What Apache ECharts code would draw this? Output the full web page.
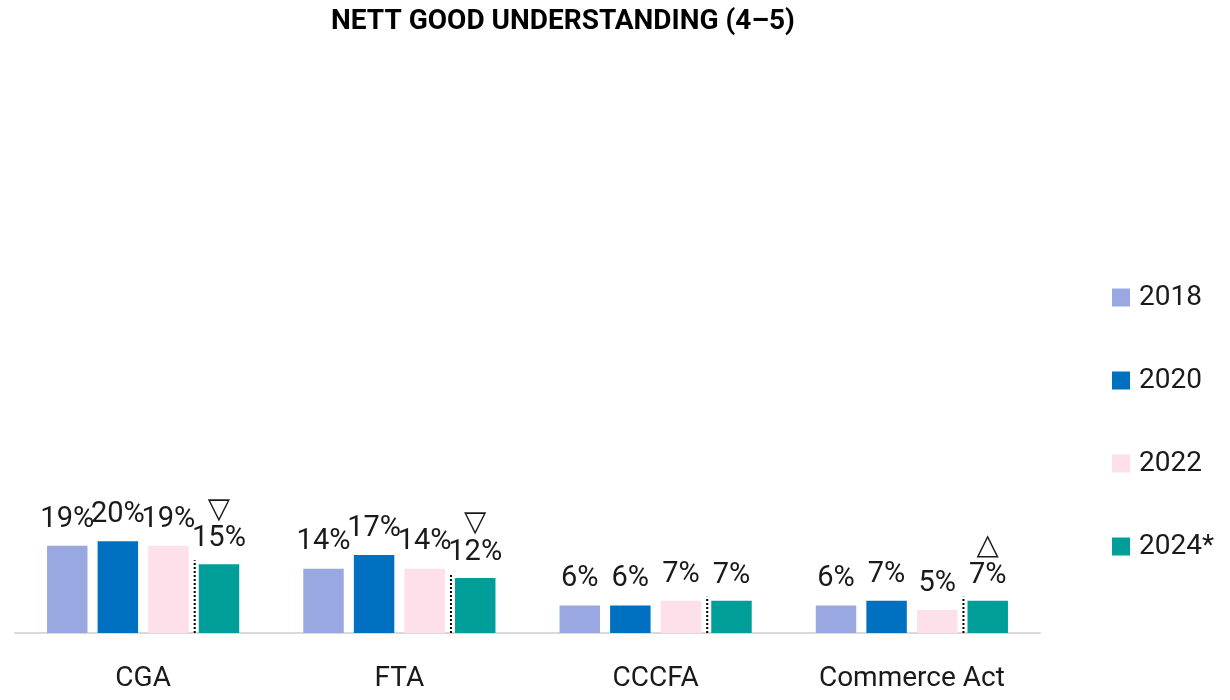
<!DOCTYPE html>
<html>
<head>
<meta charset="utf-8">
<title>Nett good understanding (4–5)</title>
<script src="https://cdn.jsdelivr.net/npm/echarts@6/dist/echarts.min.js"></script>
<style>
  html, body { margin: 0; padding: 0; background: #ffffff; }
  #chart { width: 1230px; height: 700px; }
</style>
</head>
<body>
<div id="chart"></div>
<script>
// Acts surveyed
const categories = ['CGA', 'FTA', 'CCCFA', 'Commerce Act'];
// Survey waves
const years = ['2018', '2020', '2022', '2024*'];
// Nett good understanding (%), one list per wave
const values2018 = [19, 14, 6, 6];
const values2020 = [20, 17, 6, 7];
const values2022 = [19, 14, 7, 5];
const values2024 = [15, 12, 7, 7];
// Significant change in 2024 vs 2022: 'down', 'up' or ''
const change2024 = ['down', 'down', '', 'up'];

const colors = ['#99A8E0', '#0070C0', '#FDE0EA', '#009E99'];
const textColor = '#1a1a1a';
const FONT = 'Roboto, "Noto Sans", sans-serif';

const CAT_GAP = 0.25;   // barCategoryGap
const BAR_GAP = 0.25;   // barGap, relative to bar width

const seriesValues = [values2018, values2020, values2022, values2024];

const barSeries = seriesValues.map((vals, s) => {
  const isLast = s === seriesValues.length - 1;
  return {
    name: years[s],
    type: 'bar',
    data: vals,
    barCategoryGap: (CAT_GAP * 100) + '%',
    barGap: (BAR_GAP * 100) + '%',
    itemStyle: { color: colors[s] },
    label: {
      show: true,
      position: 'top',
      distance: isLast ? 9 : 12,
      color: textColor,
      fontFamily: FONT,
      fontSize: 29,
      formatter: isLast
        ? (p) => {
            const c = change2024[p.dataIndex];
            const tri = c === 'down' ? '▽' : c === 'up' ? '△' : '';
            return (tri ? '{tri|' + tri + '}\n' : '') + '{val|' + p.value + '%}';
          }
        : (p) => p.value + '%',
      rich: isLast ? {
        tri: { fontSize: 29, lineHeight: 26, color: textColor, fontFamily: '"DejaVu Sans", sans-serif' },
        val: { fontSize: 29, lineHeight: 32, color: textColor, fontFamily: FONT }
      } : undefined
    }
  };
});

// Dotted separator between the 2022 and 2024 bars of each group
const separatorSeries = {
  type: 'custom',
  name: 'separator',
  data: values2024.map((v, i) => [i, v]),
  encode: { x: 0, y: 1 },
  z: 5,
  silent: true,
  renderItem: (params, api) => {
    const idx = api.value(0);
    const base = api.coord([idx, 0]);
    const top = api.coord([idx, api.value(1)]);
    const catW = api.size([1, 0])[0];
    const groupW = catW * (1 - CAT_GAP);
    const n = seriesValues.length;
    const bw = groupW / (n + (n - 1) * BAR_GAP);
    const gap = bw * BAR_GAP;
    const x = base[0] - groupW / 2 + 3 * bw + 2 * gap + gap * 0.6;
    return {
      type: 'line',
      shape: { x1: x, y1: base[1], x2: x, y2: top[1] - 4 },
      style: { stroke: '#000000', lineWidth: 2, lineDash: [2, 2] }
    };
  }
};

const chart = echarts.init(document.getElementById('chart'), null, { renderer: 'canvas' });
chart.setOption({
  backgroundColor: '#ffffff',
  animation: false,
  title: {
    text: 'NETT GOOD UNDERSTANDING (4–5)',
    left: 558,
    textAlign: 'center',
    top: 3,
    textStyle: { fontFamily: FONT, fontWeight: 'bold', fontSize: 28, color: '#000000' }
  },
  legend: {
    data: years,
    orient: 'vertical',
    left: 1112,
    top: 283,
    padding: 0,
    itemWidth: 18,
    itemHeight: 18,
    itemGap: 54,
    icon: 'rect',
    textStyle: { fontFamily: FONT, fontSize: 28, color: textColor, lineHeight: 29, padding: [0, 0, 0, 4] }
  },
  grid: { left: 15, right: 190, top: 174, bottom: 67, containLabel: false },
  xAxis: {
    type: 'category',
    data: categories,
    axisTick: { show: false },
    axisLine: { show: true, lineStyle: { color: '#d9d9d9', width: 2 } },
    axisLabel: { color: textColor, fontFamily: FONT, fontSize: 28, margin: 32 }
  },
  yAxis: {
    type: 'value',
    min: 0,
    max: 100,
    show: false,
    splitLine: { show: false }
  },
  series: [...barSeries, separatorSeries]
});
</script>
</body>
</html>
